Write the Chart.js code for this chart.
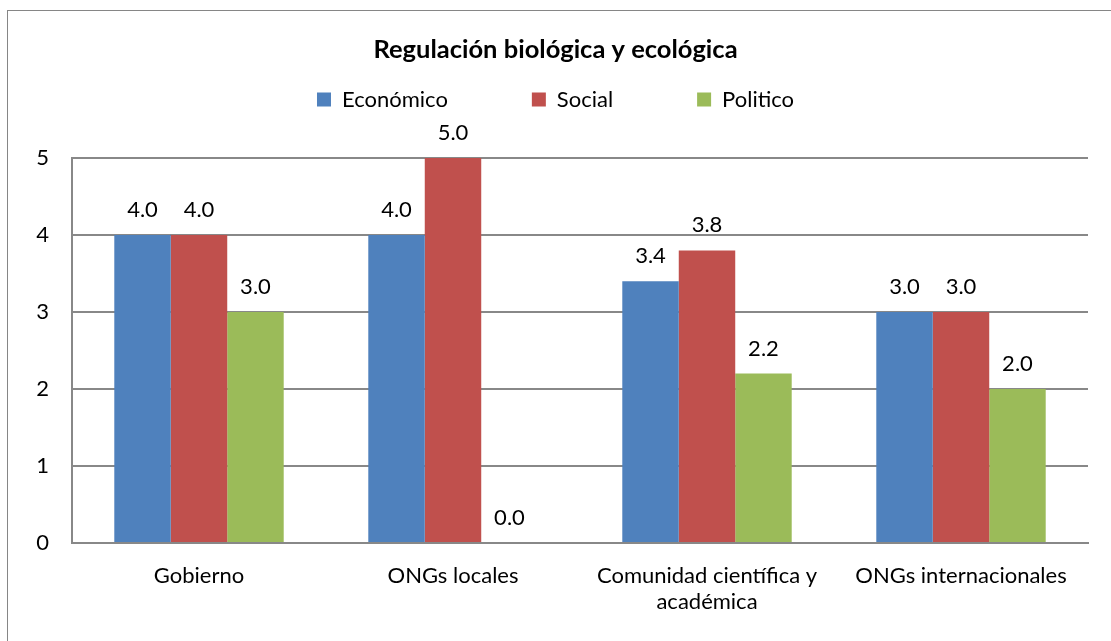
<!DOCTYPE html>
<html>
<head>
<meta charset="utf-8">
<script src="https://cdn.jsdelivr.net/npm/chart.js@4"></script>
<style>
  html, body { margin: 0; padding: 0; background: #fff; }
  #frame { position: absolute; left: 7px; top: 10px; width: 1200px; height: 700px; border: 1px solid #868686; }
  #wrap { position: absolute; left: 0; top: 0; width: 1111px; height: 641px; }
</style>
</head>
<body>
<div id="frame"></div>
<div id="wrap"><canvas id="myChart" width="1111" height="641"></canvas></div>
<script>
var categories = ['Gobierno', 'ONGs locales', ['Comunidad científica y', 'académica'], 'ONGs internacionales'];
var economico = [4.0, 4.0, 3.4, 3.0];
var social = [4.0, 5.0, 3.8, 3.0];
var politico = [3.0, 0.0, 2.2, 2.0];
var yTicks = [0, 1, 2, 3, 4, 5];

var FONT = 'Lato';
Chart.defaults.color = '#000';
Chart.defaults.font.family = FONT;

// value above each bar, one decimal
var valueLabels = {
  id: 'valueLabels',
  afterDatasetsDraw: function(chart) {
    var c = chart.ctx;
    c.save();
    c.font = '22px ' + FONT;
    c.fillStyle = '#000';
    c.textAlign = 'center';
    c.textBaseline = 'middle';
    chart.data.datasets.forEach(function(ds, i) {
      chart.getDatasetMeta(i).data.forEach(function(bar, j) {
        c.fillText(ds.data[j].toFixed(1), bar.x, bar.y - 25);
      });
    });
    c.restore();
  }
};

// more room between legend and plot
var legendSpace = {
  id: 'legendSpace',
  afterInit: function(chart) {
    var fit = chart.legend.fit;
    chart.legend.fit = function() {
      fit.call(this);
      this.height = 153.5;
    };
  }
};

var ctx = document.getElementById('myChart');
var myChart = new Chart(ctx, {
  type: 'bar',
  data: {
    labels: categories,
    datasets: [
      { label: 'Económico', data: economico, backgroundColor: '#4F81BD' },
      { label: 'Social', data: social, backgroundColor: '#C0504D' },
      { label: 'Politico', data: politico, backgroundColor: '#9BBB59' }
    ]
  },
  options: {
    responsive: false,
    animation: false,
    events: [],
    layout: { padding: { top: 0, left: 0, right: 0, bottom: 0 } },
    datasets: {
      bar: { barPercentage: 1, categoryPercentage: 0.667 }
    },
    plugins: {
      title: {
        display: true,
        text: 'Regulación biológica y ecológica',
        font: { size: 25.5, weight: 'bold' },
        padding: { top: 34.7, bottom: -60.8 }
      },
      legend: {
        display: true,
        labels: {
          boxWidth: 14,
          boxHeight: 14,
          padding: 84,
          font: { size: 22 }
        }
      },
      tooltip: { enabled: false }
    },
    scales: {
      x: {
        grid: { display: false, drawTicks: false },
        border: { display: true, color: '#888', width: 2 },
        ticks: { padding: 19, font: { size: 22, lineHeight: 1.22 } },
        afterFit: function(s) { s.height = 98; s.paddingRight = 23; }
      },
      y: {
        min: 0,
        max: 5,
        grid: { color: '#888', lineWidth: 2, drawTicks: false },
        border: { display: true, color: '#888', width: 2 },
        ticks: { padding: 23, font: { size: 22 } },
        afterBuildTicks: function(s) {
          s.ticks = yTicks.map(function(v) { return { value: v }; });
        },
        afterFit: function(s) { s.width = 72; }
      }
    }
  },
  plugins: [valueLabels, legendSpace]
});
</script>
</body>
</html>
